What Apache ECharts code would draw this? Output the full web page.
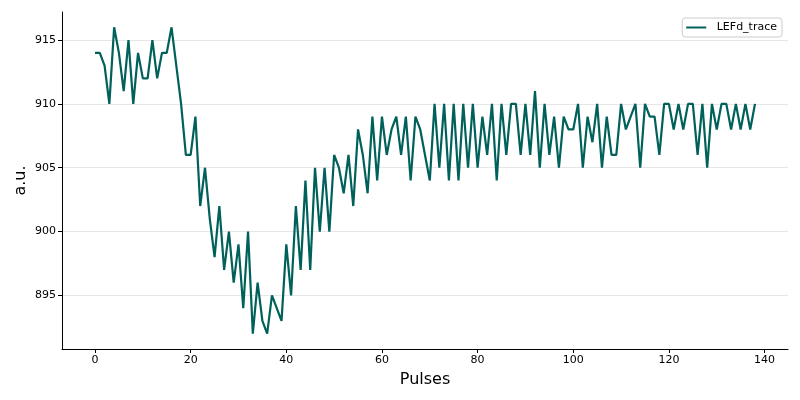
<!DOCTYPE html>
<html><head><meta charset="utf-8">
<script src="https://cdn.jsdelivr.net/npm/echarts@6/dist/echarts.min.js"></script>
<style>html,body{margin:0;padding:0;background:#fff}#c{width:800px;height:400px}</style>
</head><body><div id="c"></div>
<script>
const seriesName = 'LEFd_trace';
const values = [914,914,913,910,916,914,911,915,910,914,912,912,915,912,914,914,916,913,910,906,
906,909,902,905,901,898,902,897,900,896,899,894,900,892,896,893,892,895,894,893,
899,895,902,897,904,897,905,900,905,900,906,905,903,906,902,908,906,903,909,904,
909,906,908,909,906,909,904,909,908,906,904,910,905,910,904,910,904,910,905,910,
905,909,906,910,904,910,906,910,910,906,910,906,911,905,910,906,909,905,909,908,
908,910,905,909,907,910,905,909,906,906,910,908,909,910,905,910,909,909,906,910,
910,908,910,908,910,910,906,910,905,910,908,910,910,908,910,908,910,908,910];
const xTicks = [0,20,40,60,80,100,120,140];
const yTicks = [895,900,905,910,915];

const data = values.map((v,i)=>[i,v]);
const font = 'DejaVu Sans';
const chart = echarts.init(document.getElementById('c'), null, {renderer:'canvas'});
chart.setOption({
  animation:false,
  backgroundColor:'#fff',
  textStyle:{fontFamily:font},
  grid:{left:62,right:12,top:12,bottom:51,containLabel:false},
  legend:{
    show:true, right:18, top:18,
    data:[seriesName],
    icon:'path://M0,0 L20,0 L20,2 L0,2 Z',
    itemWidth:23,itemHeight:2,itemGap:5,
    padding:[4,5,4,4],
    borderColor:'#ccc',borderWidth:1,borderRadius:3,
    backgroundColor:'rgba(255,255,255,0.8)',
    textStyle:{fontFamily:font,fontSize:11,color:'#000',padding:[0,0,0,4]}
  },
  xAxis:{
    type:'value', min:-6.9, max:144.9,
    name:'Pulses', nameLocation:'middle', nameGap:23,
    nameTextStyle:{fontFamily:font,fontSize:16,color:'#000'},
    axisLine:{show:true,onZero:false,lineStyle:{color:'#000',width:1}},
    axisTick:{show:true,customValues:xTicks,length:4,inside:false,lineStyle:{color:'#000'}},
    axisLabel:{show:true,customValues:xTicks,fontSize:11,color:'#000',margin:6,fontFamily:font},
    splitLine:{show:false}
  },
  yAxis:{
    type:'value', min:890.8, max:917.2,
    name:'a.u.', nameLocation:'middle', nameGap:33, nameRotate:90, nameMoveOverlap:false,
    nameTextStyle:{fontFamily:font,fontSize:16,color:'#000'},
    axisLine:{show:true,onZero:false,lineStyle:{color:'#000',width:1}},
    axisTick:{show:true,customValues:yTicks,length:4,inside:false,lineStyle:{color:'#000'}},
    axisLabel:{show:true,customValues:yTicks,fontSize:11,color:'#000',margin:6,fontFamily:font},
    splitLine:{show:true,customValues:yTicks,lineStyle:{color:'#e6e6e6',width:1}}
  },
  series:[{
    name:seriesName, type:'line', data:data,
    showSymbol:false, symbol:'none',
    lineStyle:{color:'#00605a',width:2.2},
    itemStyle:{color:'#00605a'}
  }]
});
</script></body></html>
